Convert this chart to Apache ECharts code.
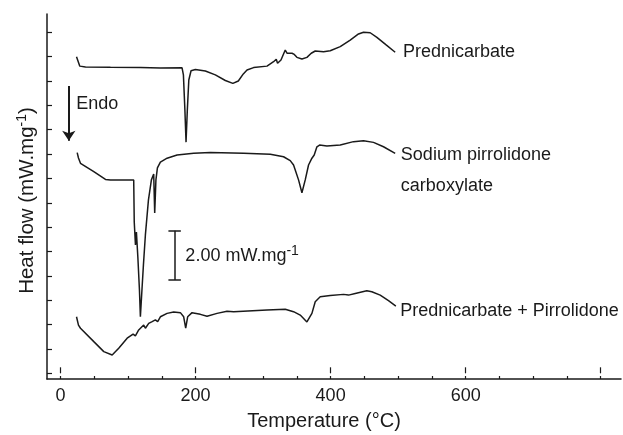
<!DOCTYPE html>
<html>
<head>
<meta charset="utf-8">
<script src="https://cdn.jsdelivr.net/npm/echarts@6/dist/echarts.min.js"></script>
<style>
  html, body { margin: 0; padding: 0; background: #fff; }
  #chart { width: 623px; height: 435px; }
</style>
</head>
<body>
<div id="chart"></div>
<script>
// temperature (°C) / heat flow (mW.mg-1, stacked offsets)
const prednicarbateT = [23.7, 28.6, 37, 74, 118.3, 147.9, 180.0, 182, 184.2, 185.9, 187.8, 190, 193.3, 199.7, 214.5, 229.3, 244.1, 255.2, 263.3, 270.7, 276.2, 285.9, 305.8, 315.5, 319.5, 321.4, 326.5, 332.8, 335.4, 337.7, 342.8, 346.2, 350.1, 357.5, 364.9, 371.3, 377.2, 389.5, 399.4, 414.2, 429.0, 441.3, 448.7, 458.6, 468.5, 482.2, 495.6]
const prednicarbateHF = [13.00, 12.61, 12.57, 12.56, 12.55, 12.53, 12.54, 12.25, 10.81, 9.49, 10.81, 12.04, 12.42, 12.47, 12.41, 12.25, 12.02, 11.90, 12.00, 12.29, 12.45, 12.55, 12.61, 12.79, 12.89, 12.73, 12.86, 13.27, 13.14, 13.09, 13.14, 13.09, 12.97, 12.90, 12.97, 13.14, 13.23, 13.20, 13.24, 13.41, 13.68, 13.93, 14.00, 13.98, 13.79, 13.48, 13.18]

const sodiumT = [24.7, 26.6, 29.6, 49.3, 66.6, 74.0, 108.4, 109.2, 111.0, 112.4, 114.6, 116.9, 118.3, 120.6, 122.8, 125.7, 130.2, 134.6, 138.0, 139.5, 141.3, 143.5, 147.9, 157.8, 172.6, 197.2, 221.9, 271.2, 310.7, 330.3, 340.2, 345.1, 347.6, 352.5, 357.5, 362.4, 367.3, 372.3, 375.7, 379.7, 383.6, 394.5, 414.2, 433.9, 448.7, 463.5, 478.3, 495.6]
const sodiumHF = [9.06, 8.84, 8.62, 8.28, 7.96, 7.94, 7.94, 6.21, 5.27, 5.80, 4.73, 3.42, 2.32, 3.42, 4.45, 5.68, 7.11, 7.94, 8.18, 6.58, 7.94, 8.43, 8.67, 8.83, 8.96, 9.03, 9.06, 9.03, 8.99, 8.89, 8.73, 8.55, 8.35, 7.94, 7.41, 7.94, 8.55, 8.83, 8.96, 9.30, 9.37, 9.33, 9.37, 9.51, 9.55, 9.48, 9.30, 9.03]

const mixtureT = [23.7, 26.6, 29.6, 49.3, 64.1, 76.5, 86.2, 98.7, 107.5, 110.9, 115.8, 118.3, 123.2, 125.7, 130.6, 135.7, 140.5, 143.9, 147.9, 157.8, 167.6, 177.5, 182.4, 185.4, 188.3, 194.8, 207.1, 217.0, 231.8, 246.6, 256.4, 305.8, 332.8, 345.1, 355.0, 364.9, 372.3, 377.2, 384.6, 399.4, 419.1, 426.5, 436.4, 453.6, 461.0, 473.4, 485.7, 496.6]
const mixtureHF = [2.32, 1.98, 1.85, 1.30, 0.89, 0.75, 1.03, 1.44, 1.61, 1.54, 1.78, 1.71, 1.98, 1.85, 2.05, 2.12, 2.19, 2.12, 2.32, 2.46, 2.52, 2.49, 2.32, 1.85, 2.32, 2.49, 2.42, 2.34, 2.46, 2.55, 2.53, 2.60, 2.63, 2.53, 2.39, 2.11, 2.46, 2.94, 3.14, 3.19, 3.24, 3.21, 3.28, 3.39, 3.35, 3.21, 2.98, 2.76]

const xMajorTicks = [0, 200, 400, 600, 800]
const xMinorTicks = [0, 50, 100, 150, 200, 250, 300, 350, 400, 450, 500, 550, 600, 650, 700, 750, 800]
const xTickLabels = [0, 200, 400, 600]
const yTicks = [0, 1, 2, 3, 4, 5, 6, 7, 8, 9, 10, 11, 12, 13, 14]

// annotation anchors, in data units
const curveLabels = [
  { text: 'Prednicarbate', at: [507, 13.20] },
  { text: 'Sodium pirrolidone', at: [504, 8.96] },
  { text: 'carboxylate', at: [504, 7.69] },
  { text: 'Prednicarbate + Pirrolidone', at: [503, 2.57] },
  { text: 'Endo', at: [23.2, 11.05] }
]
const endoArrow = [[12.3, 11.79], [12.3, 9.55]]
const scaleBar = { x: 169, y0: 3.83, y1: 5.85, cap: 9.2, label: [184.9, 4.80] }

const FONT = 'Liberation Sans, Arial, Helvetica, sans-serif'
const INK = '#1a1a1a'

const zip = (a, b) => a.map((v, i) => [v, b[i]])

const ctx = document.createElement('canvas').getContext('2d')
const textWidth = (s, size) => {
  ctx.font = size + 'px ' + FONT
  return ctx.measureText(s).width
}

const chart = echarts.init(document.getElementById('chart'))

const curve = (name, t, hf) => ({
  name,
  type: 'line',
  data: zip(t, hf),
  showSymbol: false,
  symbol: 'none',
  lineStyle: { color: INK, width: 1.5 },
  z: 3
})

chart.setOption({
  animation: false,
  backgroundColor: '#fff',
  grid: { left: 47, right: 2, top: 14, bottom: 56, outerBoundsMode: 'none' },
  xAxis: [
    {
      type: 'value',
      min: -20,
      max: 830,
      name: 'Temperature (°C)',
      nameLocation: 'middle',
      nameGap: 32,
      nameTextStyle: { fontSize: 20, fontFamily: FONT, color: INK, padding: [0, 20, 0, 0] },
      axisLine: { show: true, onZero: false, lineStyle: { color: INK, width: 1.5 } },
      axisTick: { show: true, inside: true, length: 3, customValues: xMinorTicks, lineStyle: { color: INK, width: 1.2 } },
      axisLabel: { show: true, customValues: xTickLabels, margin: 8, fontSize: 18, fontFamily: FONT, color: INK },
      splitLine: { show: false }
    },
    {
      type: 'value',
      min: -20,
      max: 830,
      position: 'bottom',
      axisLine: { show: false },
      axisTick: { show: true, inside: true, length: 6, customValues: xMajorTicks, lineStyle: { color: INK, width: 1.2 } },
      axisLabel: { show: false },
      splitLine: { show: false }
    }
  ],
  yAxis: {
    type: 'value',
    min: -0.234,
    max: 14.75,
    axisLine: { show: true, onZero: false, lineStyle: { color: INK, width: 1.5 } },
    axisTick: { show: true, inside: true, length: 5, customValues: yTicks, lineStyle: { color: INK, width: 1.2 } },
    axisLabel: { show: false },
    splitLine: { show: false }
  },
  series: [
    curve('Prednicarbate', prednicarbateT, prednicarbateHF),
    curve('Sodium pirrolidone carboxylate', sodiumT, sodiumHF),
    curve('Prednicarbate + Pirrolidone', mixtureT, mixtureHF),
    {
      name: 'endo',
      type: 'lines',
      coordinateSystem: 'cartesian2d',
      polyline: false,
      symbol: ['none', 'arrow'],
      symbolSize: 10,
      lineStyle: { color: INK, width: 2, curveness: 0, opacity: 1 },
      data: [{ coords: endoArrow }]
    },
    {
      name: 'scale',
      type: 'lines',
      coordinateSystem: 'cartesian2d',
      polyline: false,
      lineStyle: { color: INK, width: 1.5, curveness: 0, opacity: 1 },
      data: [
        { coords: [[scaleBar.x, scaleBar.y0], [scaleBar.x, scaleBar.y1]] },
        { coords: [[scaleBar.x - scaleBar.cap, scaleBar.y0], [scaleBar.x + scaleBar.cap, scaleBar.y0]] },
        { coords: [[scaleBar.x - scaleBar.cap, scaleBar.y1], [scaleBar.x + scaleBar.cap, scaleBar.y1]] }
      ]
    }
  ]
})

const txt = (text, x, y, size) => ({
  type: 'text',
  x,
  y,
  style: { text, fontSize: size, fontFamily: FONT, fill: INK, align: 'left', verticalAlign: 'middle' }
})

// "main" + superscript "-1" + tail, laid out left to right from x0
const withSup = (main, tail, x0, y, size, supSize, lift) => {
  const w1 = textWidth(main, size)
  const w2 = textWidth('-1', supSize)
  const parts = [txt(main, x0, y, size), txt('-1', x0 + w1, y - lift, supSize)]
  if (tail) parts.push(txt(tail, x0 + w1 + w2, y, size))
  return { parts, width: w1 + w2 + (tail ? textWidth(tail, size) : 0) }
}

const placeLabels = () => {
  const items = curveLabels.map(l => {
    const p = chart.convertToPixel({ gridIndex: 0 }, l.at)
    return txt(l.text, p[0], p[1], 18)
  })

  const sp = chart.convertToPixel({ gridIndex: 0 }, scaleBar.label)
  items.push(...withSup('2.00 mW.mg', '', sp[0], sp[1], 18, 14, 5).parts)

  // y axis title, rotated to read bottom-to-top
  const yTitleSize = 20.5
  const probe = withSup('Heat flow (mW.mg', ')', 0, 0, yTitleSize, 14, 5)
  const top = chart.convertToPixel({ gridIndex: 0 }, [0, 14.75])[1]
  const bottom = chart.convertToPixel({ gridIndex: 0 }, [0, -0.234])[1]
  const yTitle = withSup('Heat flow (mW.mg', ')', -probe.width / 2, 0, yTitleSize, 14, 5)
  items.push({
    type: 'group',
    x: 27,
    y: (top + bottom) / 2 + 4,
    rotation: Math.PI / 2,
    children: yTitle.parts
  })

  chart.setOption({ graphic: items })
}

placeLabels()
</script>
</body>
</html>
